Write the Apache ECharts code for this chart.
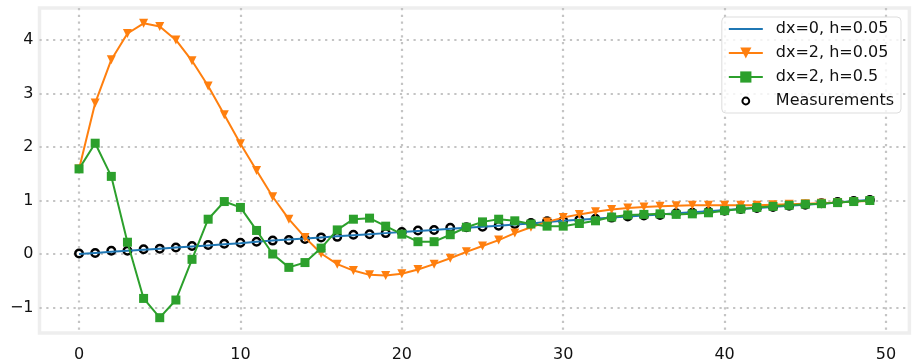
<!DOCTYPE html>
<html>
<head>
<meta charset="utf-8">
<script src="https://cdn.jsdelivr.net/npm/echarts@6/dist/echarts.min.js"></script>
<style>
html,body{margin:0;padding:0;background:#fff;}
#chart{width:919px;height:363px;}
</style>
</head>
<body>
<div id="chart"></div>
<script>
const xValues = [0,1,2,3,4,5,6,7,8,9,10,11,12,13,14,15,16,17,18,19,20,21,22,23,24,25,26,27,28,29,30,31,32,33,34,35,36,37,38,39,40,41,42,43,44,45,46,47,48,49];

const seriesNames = ['dx=0, h=0.05', 'dx=2, h=0.05', 'dx=2, h=0.5', 'Measurements'];

const measurements = [0.01,0.02,0.06,0.06,0.09,0.10,0.12,0.15,0.17,0.19,0.21,0.23,0.25,0.26,0.28,0.31,0.32,0.36,0.37,0.39,0.41,0.44,0.45,0.49,0.50,0.51,0.53,0.56,0.58,0.61,0.62,0.64,0.66,0.68,0.70,0.72,0.73,0.76,0.77,0.79,0.81,0.84,0.86,0.88,0.90,0.92,0.95,0.97,0.99,1.01];

const dx0h005 = [0.00,0.02,0.04,0.06,0.08,0.10,0.12,0.14,0.16,0.18,0.20,0.23,0.25,0.27,0.29,0.31,0.33,0.35,0.37,0.39,0.41,0.43,0.45,0.47,0.49,0.51,0.53,0.55,0.57,0.60,0.62,0.64,0.66,0.68,0.70,0.72,0.74,0.76,0.78,0.80,0.82,0.84,0.86,0.88,0.90,0.92,0.94,0.96,0.99,1.01];

const dx2h005 = [1.59,2.82,3.63,4.12,4.31,4.25,4.00,3.61,3.14,2.60,2.06,1.56,1.07,0.65,0.31,0.01,-0.19,-0.31,-0.39,-0.40,-0.37,-0.29,-0.19,-0.08,0.04,0.15,0.26,0.39,0.50,0.60,0.68,0.74,0.79,0.83,0.86,0.88,0.89,0.90,0.91,0.91,0.91,0.91,0.91,0.92,0.93,0.94,0.95,0.96,0.98,0.99];

const dx2h05 = [1.59,2.07,1.45,0.22,-0.83,-1.19,-0.86,-0.10,0.65,0.98,0.87,0.44,0.00,-0.25,-0.16,0.11,0.45,0.65,0.67,0.52,0.37,0.23,0.23,0.36,0.50,0.60,0.65,0.62,0.56,0.52,0.52,0.57,0.62,0.69,0.73,0.74,0.75,0.74,0.75,0.77,0.81,0.84,0.87,0.89,0.91,0.93,0.94,0.96,0.98,1.00];

const pair = arr => xValues.map((x, i) => [x, arr[i]]);
const FONT = 'DejaVu Sans';
const minusFmt = v => (Number.isInteger(v) ? String(v).replace('-', '\u2212') : '');

const chart = echarts.init(document.getElementById('chart'), null, {renderer: 'canvas'});
chart.setOption({
  animation: false,
  backgroundColor: '#ffffff',
  grid: {
    left: 39.5, right: 9.6, top: 8, bottom: 30,
    show: true, borderColor: '#eeeeee', borderWidth: 3.5, backgroundColor: '#ffffff'
  },
  xAxis: {
    type: 'value', min: -2.45, max: 51.45, minInterval: 10, maxInterval: 10,
    axisLine: {show: false}, axisTick: {show: false},
    axisLabel: {formatter: minusFmt, color: '#111', fontFamily: FONT, fontSize: 16, margin: 14, showMinLabel: false, showMaxLabel: false},
    splitLine: {show: true, showMinLine: false, showMaxLine: false, lineStyle: {color: '#c4c4c4', width: 2.2, type: [2.2, 4.6]}}
  },
  yAxis: {
    type: 'value', min: -1.476, max: 4.596, minInterval: 1, maxInterval: 1,
    axisLine: {show: false}, axisTick: {show: false},
    axisLabel: {formatter: minusFmt, color: '#111', fontFamily: FONT, fontSize: 16, margin: 6, showMinLabel: false, showMaxLabel: false},
    splitLine: {show: true, showMinLine: false, showMaxLine: false, lineStyle: {color: '#c4c4c4', width: 2.2, type: [2.2, 4.6]}}
  },
  legend: {
    orient: 'vertical', right: 18, top: 17,
    data: [
      {name: seriesNames[0], itemStyle: {opacity: 0}},
      {name: seriesNames[1]},
      {name: seriesNames[2]},
      {name: seriesNames[3], icon: 'path://M0 0 M34 14 M17 3.6 A3.4 3.4 0 1 1 16.99 3.6 Z'}
    ],
    backgroundColor: 'rgba(255,255,255,0.8)', borderColor: '#dddddd', borderWidth: 1, borderRadius: 4,
    padding: [4, 7, 4, 6],
    itemWidth: 34, itemHeight: 14, itemGap: 8,
    textStyle: {fontFamily: FONT, fontSize: 16, color: '#111', lineHeight: 16, padding: [0, 0, 0, 8]}
  },
  series: [
    {
      name: seriesNames[3], type: 'scatter', data: pair(measurements), z: 2,
      symbol: 'circle', symbolSize: 7.5,
      itemStyle: {color: '#ffffff', borderColor: '#000000', borderWidth: 2.5, opacity: 1}
    },
    {
      name: seriesNames[0], type: 'line', data: pair(dx0h005), z: 3,
      showSymbol: false, symbol: 'none',
      lineStyle: {color: '#1f77b4', width: 2}, itemStyle: {color: '#1f77b4'}
    },
    {
      name: seriesNames[1], type: 'line', data: pair(dx2h005), z: 4,
      symbol: 'triangle', symbolRotate: 180, symbolSize: 9,
      lineStyle: {color: '#ff7f0e', width: 2}, itemStyle: {color: '#ff7f0e'}
    },
    {
      name: seriesNames[2], type: 'line', data: pair(dx2h05), z: 5,
      symbol: 'rect', symbolSize: 9,
      lineStyle: {color: '#2ca02c', width: 2}, itemStyle: {color: '#2ca02c'}
    }
  ]
});
</script>
</body>
</html>
